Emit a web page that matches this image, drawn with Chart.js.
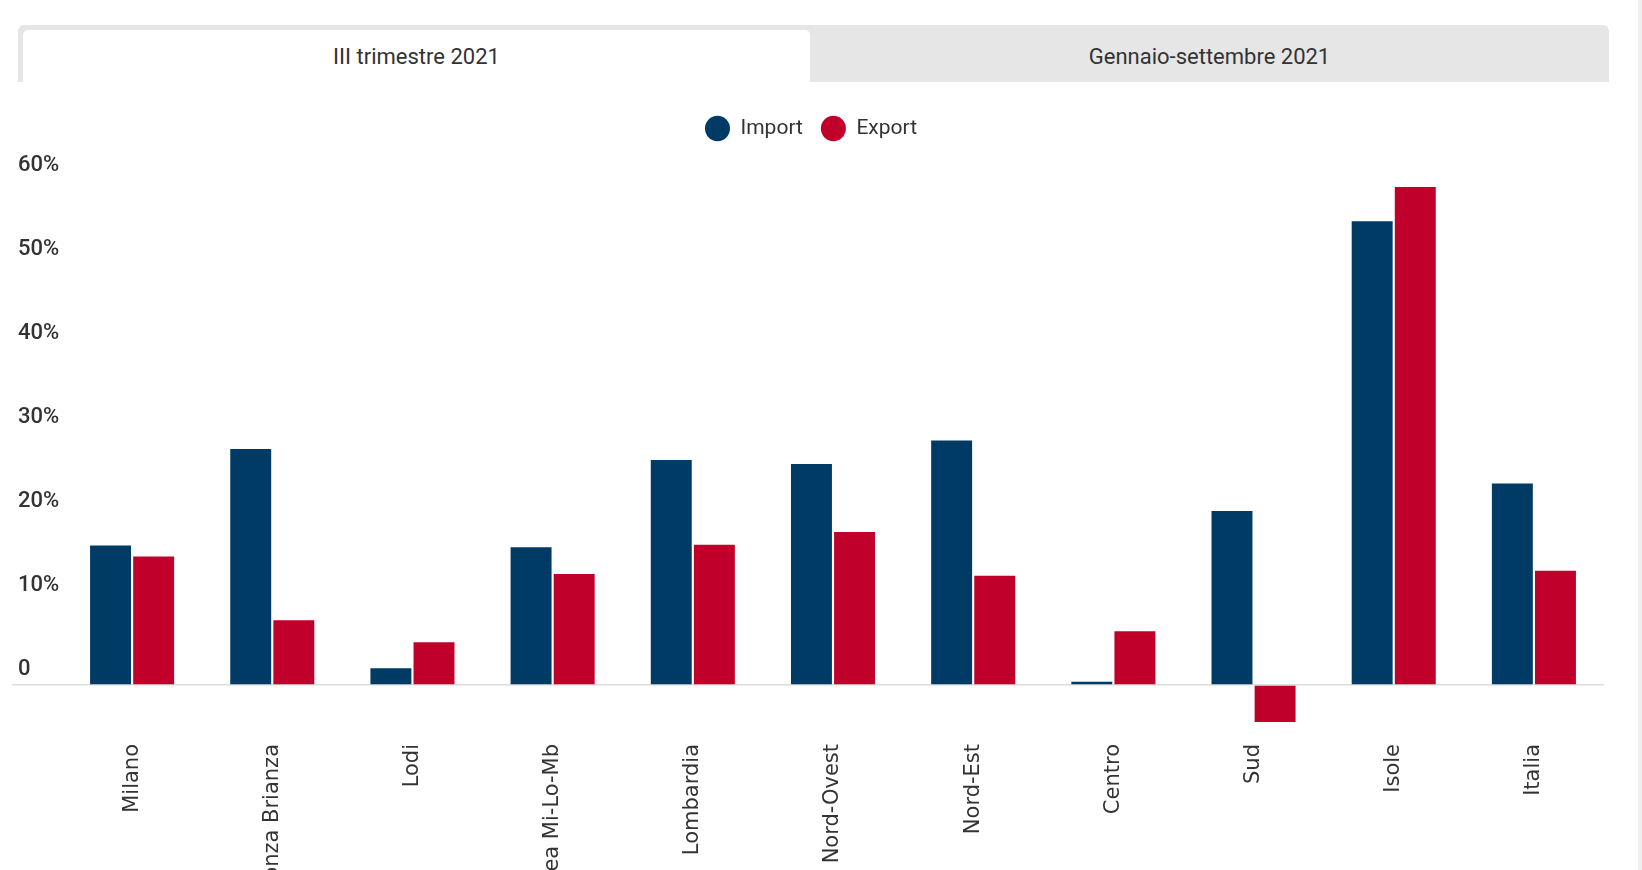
<!DOCTYPE html>
<html lang="it">
<head>
<meta charset="utf-8">
<title>Import / Export</title>
<script src="https://cdn.jsdelivr.net/npm/chart.js@4/dist/chart.umd.min.js"></script>
<style>
  html, body { margin: 0; padding: 0; background: #ffffff; overflow: hidden; }
  body { width: 1642px; height: 870px; position: relative; font-family: Roboto, "Liberation Sans", sans-serif; }
  #tabs { position: absolute; left: 18px; top: 25px; width: 1591px; height: 57px; background: #e6e6e6; border-radius: 6px 6px 0 0; }
  .tab { position: absolute; top: 5px; height: 52px; line-height: 54px; text-align: center; font-size: 22px; color: #333333; }
  #tab1 { left: 5px; width: 787px; background: #ffffff; border-radius: 5px 5px 0 0; }
  #tab2 { left: 792px; width: 799px; }
  #edge { position: absolute; left: 1638px; top: 0; width: 4px; height: 870px; background: #efefef; }
  #wrap { position: absolute; left: 0; top: 0; width: 1642px; height: 870px; }
</style>
</head>
<body>
<div id="tabs">
  <div class="tab" id="tab1">III trimestre 2021</div>
  <div class="tab" id="tab2">Gennaio-settembre 2021</div>
</div>
<div id="edge"></div>
<div id="wrap"><canvas id="chart"></canvas></div>
<script>
const categories = ["Milano", "Monza Brianza", "Lodi", "Area Mi-Lo-Mb", "Lombardia", "Nord-Ovest", "Nord-Est", "Centro", "Sud", "Isole", "Italia"];
const importValues = [16.6, 28.1, 2.0, 16.4, 26.8, 26.3, 29.1, 0.4, 20.7, 55.2, 24.0];
const exportValues = [15.3, 7.7, 5.1, 13.2, 16.7, 18.2, 13.0, 6.4, -4.4, 59.3, 13.6];
const seriesNames = ["Import", "Export"];
const yTicks = [0, 10, 20, 30, 40, 50, 60];

const legendSpacer = {
  id: 'legendSpacer',
  beforeInit(chart) {
    const origFit = chart.legend.fit;
    chart.legend.fit = function () {
      origFit.bind(chart.legend)();
      this.height += 32;
    };
  }
};

new Chart(document.getElementById('chart'), {
  type: 'bar',
  data: {
    labels: categories,
    datasets: [
      { label: seriesNames[0], data: importValues, backgroundColor: '#003b66', categoryPercentage: 0.615, barPercentage: 0.95 },
      { label: seriesNames[1], data: exportValues, backgroundColor: '#c0002b', categoryPercentage: 0.615, barPercentage: 0.95 }
    ]
  },
  options: {
    responsive: true,
    maintainAspectRatio: false,
    animation: false,
    layout: { padding: { left: 18, right: 38, top: 100, bottom: 0 } },
    plugins: {
      tooltip: { enabled: false },
      legend: {
        position: 'top',
        align: 'center',
        labels: {
          usePointStyle: true,
          pointStyle: 'circle',
          pointStyleWidth: 25,
          boxHeight: 18,
          padding: 18,
          color: '#333333',
          font: { family: 'Roboto', size: 21 }
        }
      }
    },
    scales: {
      x: {
        grid: { display: false },
        border: { display: false },
        ticks: {
          autoSkip: false,
          minRotation: 90,
          maxRotation: 90,
          padding: 9,
          color: '#333333',
          font: { family: "'DejaVu Sans', 'Verdana', sans-serif", size: 21 }
        },
        afterFit(scale) { scale.height = 143; }
      },
      y: {
        min: -5,
        max: 60,
        border: { display: false },
        grid: {
          drawTicks: true,
          tickLength: 50,
          lineWidth: 1.5,
          color: (ctx) => (ctx.tick && ctx.tick.value === 0) ? '#dcdcdc' : 'rgba(0,0,0,0)'
        },
        afterBuildTicks(scale) {
          scale.ticks = yTicks.map(v => ({ value: v }));
        },
        ticks: {
          crossAlign: 'far',
          labelOffset: -16,
          color: '#333333',
          font: { family: 'Roboto', size: 22, weight: '500' },
          callback: (v) => v === 0 ? '0' : v + '%'
        },
        afterFit(scale) { scale.width = 44; }
      }
    }
  },
  plugins: [legendSpacer]
});
</script>
</body>
</html>
